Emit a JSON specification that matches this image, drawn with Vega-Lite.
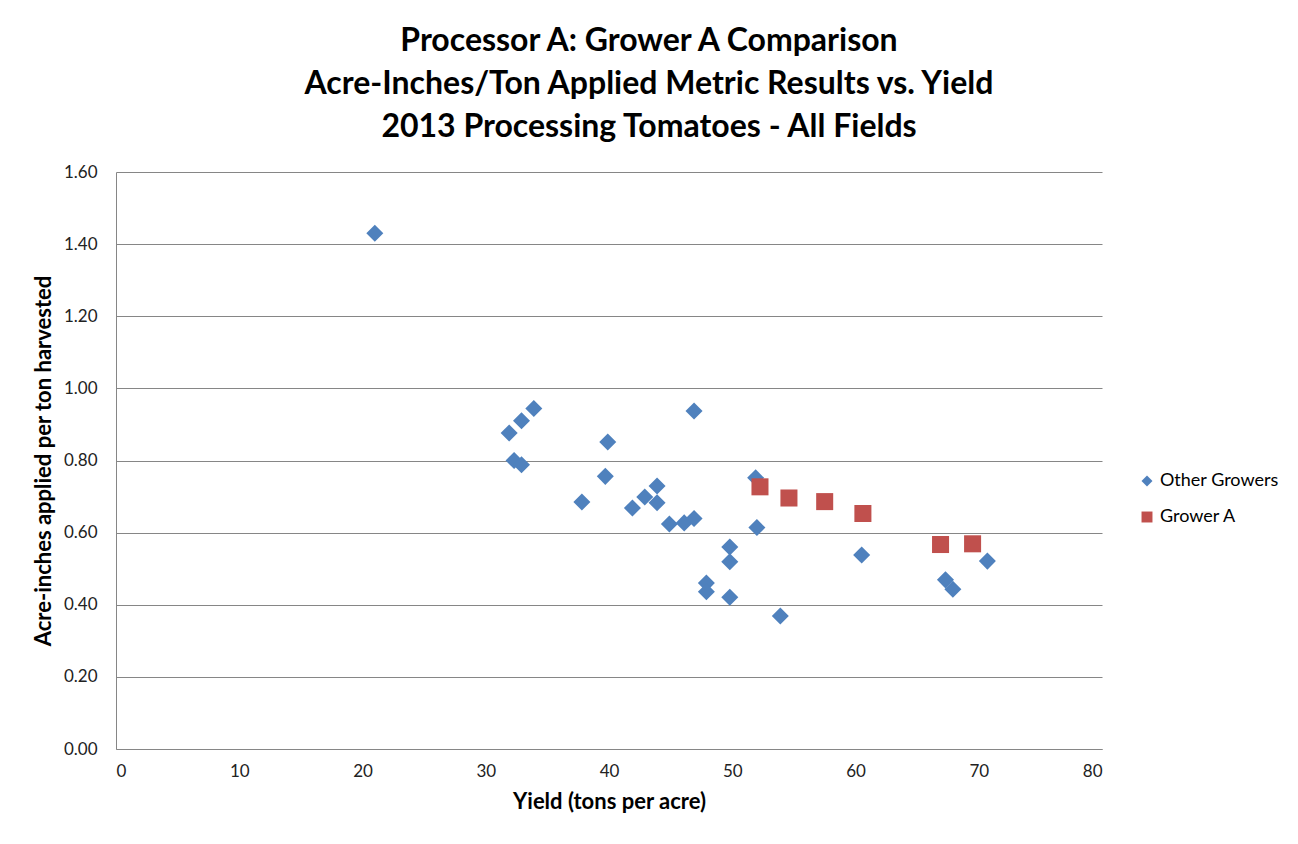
{
  "$schema": "https://vega.github.io/schema/vega-lite/v6.json",
  "autosize": "none",
  "width": 986,
  "height": 577,
  "padding": {"left": 116, "top": 172, "right": 196, "bottom": 95},
  "background": "white",
  "title": {
    "text": ["Processor A: Grower A Comparison", "Acre-Inches/Ton Applied Metric Results vs. Yield", "2013 Processing Tomatoes - All Fields"],
    "font": "Lato",
    "fontSize": 32,
    "fontWeight": "bold",
    "color": "#000000",
    "anchor": "middle",
    "dx": 40,
    "lineHeight": 43,
    "offset": 19
  },
  "data": {
    "values": [
      {"yield": 21.0, "metric": 1.43, "group": "Other Growers"},
      {"yield": 31.9, "metric": 0.876, "group": "Other Growers"},
      {"yield": 32.9, "metric": 0.91, "group": "Other Growers"},
      {"yield": 33.9, "metric": 0.944, "group": "Other Growers"},
      {"yield": 32.3, "metric": 0.80, "group": "Other Growers"},
      {"yield": 32.9, "metric": 0.788, "group": "Other Growers"},
      {"yield": 37.8, "metric": 0.685, "group": "Other Growers"},
      {"yield": 39.7, "metric": 0.756, "group": "Other Growers"},
      {"yield": 39.9, "metric": 0.851, "group": "Other Growers"},
      {"yield": 41.9, "metric": 0.668, "group": "Other Growers"},
      {"yield": 42.9, "metric": 0.699, "group": "Other Growers"},
      {"yield": 43.9, "metric": 0.729, "group": "Other Growers"},
      {"yield": 43.9, "metric": 0.683, "group": "Other Growers"},
      {"yield": 44.9, "metric": 0.624, "group": "Other Growers"},
      {"yield": 46.1, "metric": 0.627, "group": "Other Growers"},
      {"yield": 46.9, "metric": 0.639, "group": "Other Growers"},
      {"yield": 46.9, "metric": 0.937, "group": "Other Growers"},
      {"yield": 47.9, "metric": 0.46, "group": "Other Growers"},
      {"yield": 47.9, "metric": 0.436, "group": "Other Growers"},
      {"yield": 49.8, "metric": 0.56, "group": "Other Growers"},
      {"yield": 49.8, "metric": 0.519, "group": "Other Growers"},
      {"yield": 49.8, "metric": 0.421, "group": "Other Growers"},
      {"yield": 51.9, "metric": 0.752, "group": "Other Growers"},
      {"yield": 52.0, "metric": 0.614, "group": "Other Growers"},
      {"yield": 53.9, "metric": 0.369, "group": "Other Growers"},
      {"yield": 60.5, "metric": 0.538, "group": "Other Growers"},
      {"yield": 67.3, "metric": 0.469, "group": "Other Growers"},
      {"yield": 67.9, "metric": 0.443, "group": "Other Growers"},
      {"yield": 70.7, "metric": 0.521, "group": "Other Growers"},
      {"yield": 52.25, "metric": 0.727, "group": "Grower A"},
      {"yield": 54.6, "metric": 0.696, "group": "Grower A"},
      {"yield": 57.5, "metric": 0.686, "group": "Grower A"},
      {"yield": 60.6, "metric": 0.653, "group": "Grower A"},
      {"yield": 66.9, "metric": 0.567, "group": "Grower A"},
      {"yield": 69.5, "metric": 0.569, "group": "Grower A"}
    ]
  },
  "mark": {"type": "point", "filled": true, "opacity": 1},
  "encoding": {
    "x": {
      "field": "yield",
      "type": "quantitative",
      "title": "Yield (tons per acre)",
      "scale": {"domain": [0, 80], "nice": false, "zero": true},
      "axis": {"values": [0, 10, 20, 30, 40, 50, 60, 70, 80], "grid": false, "format": "d"}
    },
    "y": {
      "field": "metric",
      "type": "quantitative",
      "title": "Acre-inches applied per ton harvested",
      "scale": {"domain": [0, 1.6], "nice": false},
      "axis": {"values": [0, 0.2, 0.4, 0.6, 0.8, 1.0, 1.2, 1.4, 1.6], "format": ".2f", "grid": true}
    },
    "color": {
      "field": "group",
      "type": "nominal",
      "scale": {"domain": ["Other Growers", "Grower A"], "range": ["#4F81BD", "#C0504D"]},
      "legend": {"title": null}
    },
    "shape": {
      "field": "group",
      "type": "nominal",
      "scale": {"domain": ["Other Growers", "Grower A"], "range": ["diamond", "square"]},
      "legend": {"title": null}
    },
    "size": {"value": 290},
    "order": {"field": "group", "sort": "descending"}
  },
  "config": {
    "view": {"stroke": null},
    "axis": {
      "labelFont": "Lato",
      "labelFontSize": 17,
      "labelColor": "#222222",
      "titleFont": "Lato",
      "titleFontSize": 22,
      "titleFontWeight": "bold",
      "titleColor": "#000000",
      "domainColor": "#868686",
      "gridColor": "#868686",
      "gridWidth": 1,
      "ticks": false,
      "domainWidth": 1
    },
    "axisY": {"labelPadding": 19, "titlePadding": 8},
    "axisX": {"labelPadding": 14, "titlePadding": 12},
    "legend": {
      "orient": "none",
      "legendX": 1022,
      "legendY": 300,
      "labelFont": "Lato",
      "labelFontSize": 18,
      "labelColor": "#000000",
      "symbolSize": 120,
      "rowPadding": 18,
      "symbolOffset": 0,
      "labelOffset": 4
    }
  }
}
